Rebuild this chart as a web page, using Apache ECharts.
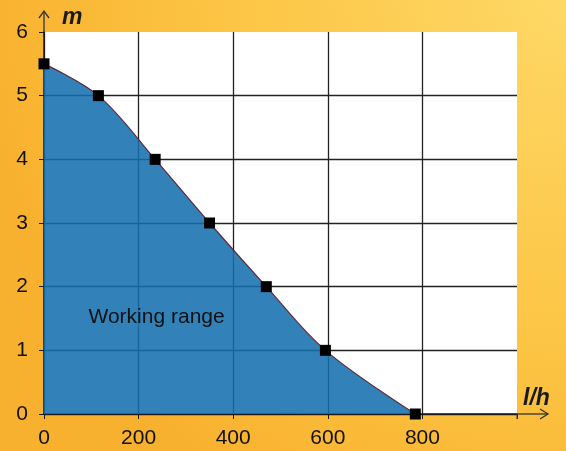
<!DOCTYPE html>
<html><head><meta charset="utf-8">
<script src="https://cdn.jsdelivr.net/npm/echarts@6/dist/echarts.min.js"></script>
<style>html,body{margin:0;padding:0;}#c{width:566px;height:451px;}</style>
</head><body><div id="c"></div>
<script>
var flowValues = [0, 115, 235, 350, 470, 595, 785];
var headValues = [5.5, 5, 4, 3, 2, 1, 0];
var xTicks = [0, 200, 400, 600, 800];
var yTicks = [0, 1, 2, 3, 4, 5, 6];
var xName = 'l/h', yName = 'm', areaLabel = 'Working range';

var chart = echarts.init(document.getElementById('c'));
var pts = flowValues.map(function (v, i) { return [v, headValues[i]]; });
var font = 'Liberation Sans, Arial, sans-serif';
var tickFont = '"Liberation Sans Narrow", "Arial Narrow", "Liberation Sans", sans-serif';
chart.setOption({
  animation: false,
  backgroundColor: {
    type: 'radial', x: 1, y: 0, r: 1.3,
    colorStops: [{ offset: 0, color: '#fed866' }, { offset: 0.6, color: '#fcc443' }, { offset: 1, color: '#f8b12e' }]
  },
  grid: { left: 44, right: 49, top: 32, bottom: 37, show: true, backgroundColor: '#ffffff', borderWidth: 0 },
  xAxis: {
    type: 'value', min: 0, max: 1000, interval: 200,
    axisLine: { show: true, lineStyle: { color: '#1a1a1a', width: 1.5 } },
    axisTick: { show: true, length: 5, lineStyle: { color: '#1a1a1a' } },
    axisLabel: { color: '#111', fontSize: 21, fontFamily: tickFont, margin: 14,
      formatter: function (v) { return xTicks.indexOf(v) >= 0 ? String(v) : ''; } },
    splitLine: { show: true, showMaxLine: false, lineStyle: { color: '#222', width: 1.3 } }
  },
  yAxis: {
    type: 'value', min: 0, max: 6, interval: 1,
    axisLine: { show: true, lineStyle: { color: '#1a1a1a', width: 1.5 } },
    axisTick: { show: true, length: 5, lineStyle: { color: '#1a1a1a' } },
    axisLabel: { color: '#111', fontSize: 21, fontFamily: tickFont, margin: 16,
      formatter: function (v) { return yTicks.indexOf(v) >= 0 ? String(v) : ''; } },
    splitLine: { show: true, showMaxLine: false, lineStyle: { color: '#222', width: 1.3 } }
  },
  series: [{
    type: 'line', data: pts, smooth: 0.35,
    symbol: 'rect', symbolSize: 11,
    itemStyle: { color: '#000' },
    lineStyle: { color: '#5e2a3a', width: 1.2 },
    areaStyle: { color: '#146eaf', opacity: 0.87, origin: 'start' }
  }]
});

function drawExtras() {
  var o = chart.convertToPixel({ gridIndex: 0 }, [0, 0]);
  var top = chart.convertToPixel({ gridIndex: 0 }, [0, 6]);
  var right = chart.convertToPixel({ gridIndex: 0 }, [1000, 0]);
  var lab = chart.convertToPixel({ gridIndex: 0 }, [238, 1.52]);
  var yTopEnd = top[1] - 21, xRightEnd = right[0] + 31;
  chart.setOption({
    graphic: [
      { type: 'line', z: 100, shape: { x1: o[0], y1: top[1], x2: o[0], y2: yTopEnd }, style: { stroke: '#333', lineWidth: 1.3 } },
      { type: 'polyline', z: 100, shape: { points: [[o[0] - 5, yTopEnd + 7], [o[0], yTopEnd], [o[0] + 5, yTopEnd + 7]] }, style: { stroke: '#333', lineWidth: 1.3, fill: null } },
      { type: 'line', z: 100, shape: { x1: right[0], y1: o[1], x2: xRightEnd, y2: o[1] }, style: { stroke: '#333', lineWidth: 1.3 } },
      { type: 'line', z: 100, shape: { x1: right[0], y1: o[1], x2: right[0], y2: o[1] + 5 }, style: { stroke: '#333', lineWidth: 1 } },
      { type: 'polyline', z: 100, shape: { points: [[xRightEnd - 8, o[1] - 5], [xRightEnd, o[1]], [xRightEnd - 8, o[1] + 5]] }, style: { stroke: '#333', lineWidth: 1.3, fill: null } },
      { type: 'text', z: 100, x: o[0] + 18, y: yTopEnd + 7, style: { text: yName, font: 'italic bold 23px ' + font, fill: '#1a1a1a', textVerticalAlign: 'middle' } },
      { type: 'text', z: 100, x: right[0] + 6, y: o[1] - 15, style: { text: xName, font: 'italic bold 23px ' + font, fill: '#1a1a1a', textVerticalAlign: 'middle' } },
      { type: 'text', z: 100, x: lab[0], y: lab[1], style: { text: areaLabel, font: '21px ' + font, fill: '#111', textAlign: 'center', textVerticalAlign: 'middle' } }
    ]
  });
}
drawExtras();
</script></body></html>
